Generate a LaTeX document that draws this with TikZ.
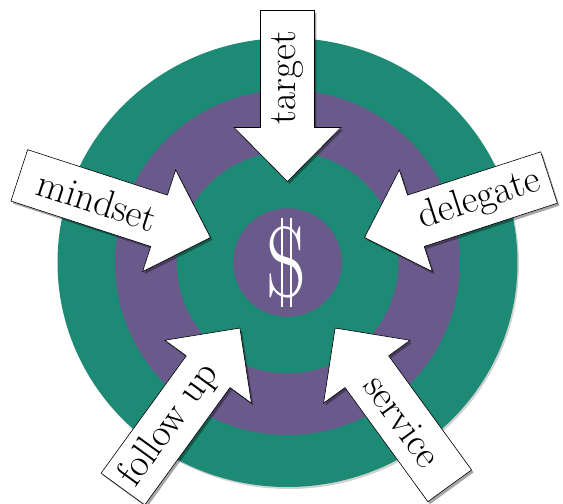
\documentclass[tikz,border=0pt]{standalone}
\usetikzlibrary{shadows}
\definecolor{ringgreen}{RGB}{28,138,117}
\definecolor{ringpurple}{RGB}{106,90,140}
\tikzset{
  arrowbox/.style={fill=white, draw=black, line width=0.6pt, line join=miter,
    drop shadow={shadow xshift=2pt, shadow yshift=-2.5pt, opacity=0.35, fill=black}},
  arrowtext/.style={font=\fontsize{39}{42}\selectfont, inner sep=0pt, text=black},
  dollarstroke/.style={white, line width=1.6pt}
}
% #1 angle, #2 tail distance, #3 text distance, #4 text rotation, #5 node name, #6 text
\newcommand{\myblockarrow}[6]{%
  \draw[arrowbox] (#1:81)
    -- ([shift={({#1+90}:53.5)}]#1:135)
    -- ([shift={({#1+90}:27)}]#1:135)
    -- ([shift={({#1+90}:27)}]#1:#2)
    -- ([shift={({#1-90}:27)}]#1:#2)
    -- ([shift={({#1-90}:27)}]#1:135)
    -- ([shift={({#1-90}:53.5)}]#1:135)
    -- cycle;
  \node[arrowtext, rotate=#4] (#5) at (#1:#3) {#6};
}
\begin{document}
\begin{tikzpicture}[x=1pt, y=1pt]
  \useasboundingbox (-287.5,-241.5) rectangle (275.5,262.5);
  % target rings
  \fill[ringgreen, drop shadow={shadow xshift=1.5pt, shadow yshift=-2pt, opacity=0.18, fill=black}]
    (0,0) ellipse [x radius=230, y radius=224.5];
  \fill[ringpurple] (0,0) circle [radius=172.5];
  \fill[ringgreen] (0,0) circle [radius=110.8];
  \fill[ringpurple] (0,0) circle [radius=54.3];
  % dollar sign
  \node[text=white, font=\fontsize{100}{100}\selectfont, xscale=0.78, inner sep=0pt] (dollar) at (-1,0) {S};
  \draw[dollarstroke] (-5.5,44.5) -- (-5.5,-44.5);
  \draw[dollarstroke] (3.5,44.5) -- (3.5,-44.5);
  % arrows
  \myblockarrow{90}{252}{185}{90}{target}{target}
  \myblockarrow{162}{282}{200}{-18}{mindset}{mindset}
  \myblockarrow{18}{275}{202}{18}{delegate}{delegate}
  \myblockarrow{234}{280}{201}{54}{followup}{follow up}
  \myblockarrow{306}{276}{196}{-54}{service}{service}
\end{tikzpicture}
\end{document}
